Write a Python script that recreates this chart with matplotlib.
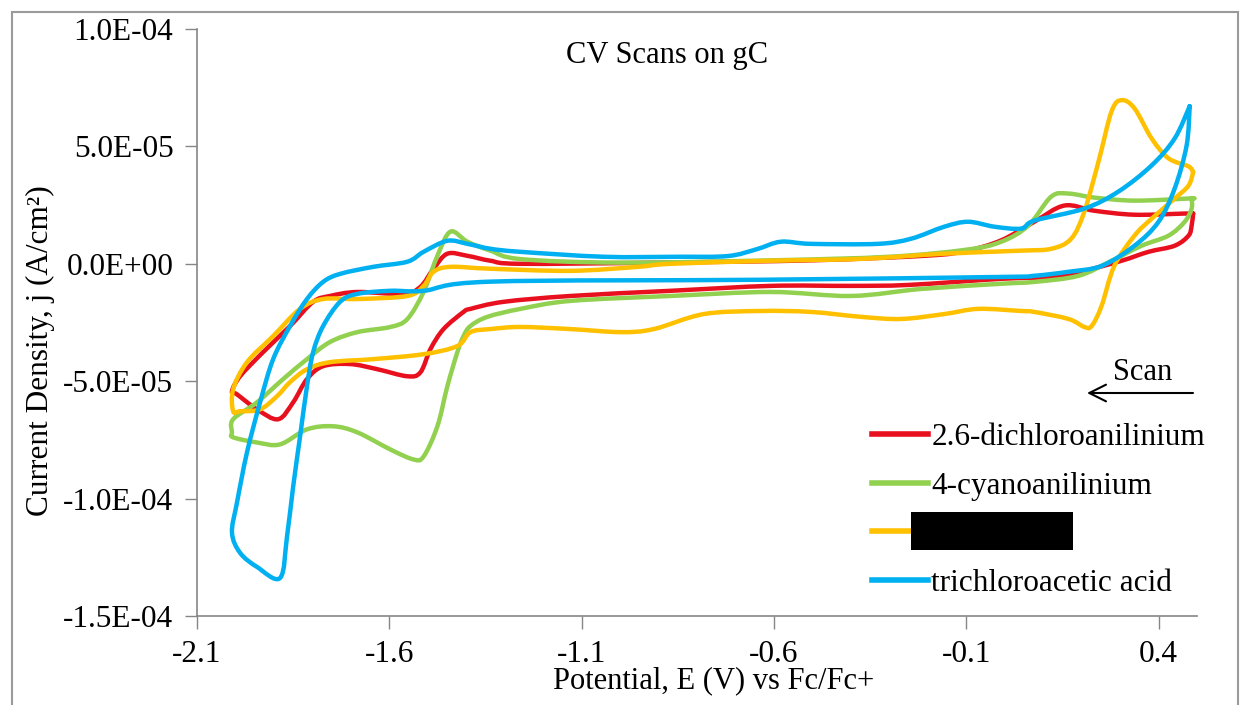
import numpy as np
import matplotlib
matplotlib.use("Agg")
import matplotlib.pyplot as plt
from matplotlib.patches import Rectangle, PathPatch
from matplotlib.path import Path
from matplotlib.lines import Line2D

plt.rcParams['font.family'] = ['Liberation Serif', 'DejaVu Serif']

# potential E (V vs Fc/Fc+) and current density j (units of 1e-5 A/cm2)
# each loop starts at the right vertex, scans negative, then returns
red_E = [0.49, 0.486, 0.478, 0.442, 0.374, 0.304, 0.207, 0.121, -0.009, -0.25,
         -0.40, -0.608, -0.868, -1.129, -1.303, -1.389, -1.407, -1.459, -1.493, -1.519,
         -1.553, -1.631, -1.702, -1.772, -1.814, -1.85, -1.889, -1.944, -1.996, -2.009,
         -1.988, -1.928, -1.858, -1.798, -1.754, -1.683, -1.564, -1.519, -1.485, -1.449,
         -1.397, -1.337, -1.259, -0.9, -0.5, -0.2, -0.1, -0.009, 0.077, 0.155,
         0.233, 0.3375, 0.468, 0.49]
red_j = [2.14, 1.62, 1.20, 0.77, 0.51, 0.13, -0.30, -0.56, -0.64, -0.90,
         -0.94, -0.94, -1.15, -1.37, -1.62, -1.92, -2.05, -2.78, -3.63, -4.62,
         -4.79, -4.49, -4.27, -4.36, -4.91, -5.90, -6.62, -6.20, -5.56, -5.43,
         -4.79, -3.76, -2.65, -1.62, -1.37, -1.20, -1.28, -0.98, -0.21, 0.43,
         0.34, 0.13, 0.0, 0.05, 0.15, 0.35, 0.55, 1.0, 1.79, 2.48,
         2.26, 2.09, 2.14, 2.14]

green_E = [0.486, 0.486, 0.468, 0.426, 0.356, 0.278, 0.192, 0.077, -0.009, -0.217,
           -0.399, -0.608, -0.868, -1.129, -1.259, -1.345, -1.389, -1.407, -1.423, -1.449,
           -1.475, -1.511, -1.5375, -1.597, -1.683, -1.746, -1.814, -1.884, -1.944, -2.006,
           -2.009, -2.006, -1.944, -1.876, -1.814, -1.754, -1.683, -1.597, -1.553, -1.511,
           -1.475, -1.441, -1.397, -1.337, -1.259, -1.0, -0.6, -0.3, -0.1, -0.009,
           0.061, 0.121, 0.166, 0.233, 0.3375, 0.478, 0.486]
green_j = [2.78, 2.35, 1.79, 1.20, 0.77, 0.13, -0.51, -0.77, -0.85, -1.07,
           -1.37, -1.20, -1.37, -1.58, -1.92, -2.26, -2.65, -3.08, -3.76, -5.21,
           -6.92, -8.21, -8.33, -7.91, -7.18, -6.92, -7.05, -7.69, -7.61, -7.39,
           -7.18, -6.62, -5.90, -4.91, -4.06, -3.33, -2.91, -2.69, -2.35, -1.20,
           0.34, 1.37, 0.94, 0.56, 0.20, 0.05, 0.15, 0.3, 0.6, 0.94,
           1.62, 2.86, 2.99, 2.82, 2.69, 2.78, 2.78]

orange_E = [0.49, 0.478, 0.442, 0.382, 0.3375, 0.285, 0.252, 0.226, 0.207, 0.166,
            0.077, 0.043, -0.069, -0.157, -0.269, -0.373, -0.504, -0.634, -0.782, -0.9125,
            -0.998, -1.129, -1.259, -1.337, -1.389, -1.423, -1.511, -1.642, -1.754, -1.814,
            -1.858, -1.892, -1.936, -1.988, -2.006, -2.006, -1.97, -1.902, -1.832, -1.772,
            -1.683, -1.553, -1.511, -1.485, -1.441, -1.337, -1.129, -0.954, -0.868, -0.608,
            -0.373, -0.157, 0.043, 0.121, 0.173, 0.207, 0.244, 0.278, 0.304, 0.3375,
            0.382, 0.426, 0.478, 0.49]
orange_j = [3.9, 3.33, 2.78, 1.92, 1.20, -0.09, -1.79, -2.65, -2.69, -2.35,
            -2.05, -2.01, -1.92, -2.14, -2.35, -2.26, -2.05, -2.01, -2.14, -2.78,
            -2.91, -2.78, -2.69, -2.78, -2.91, -3.50, -3.85, -4.06, -4.19, -4.49,
            -5.04, -5.64, -6.20, -6.28, -6.28, -5.34, -4.19, -3.08, -1.92, -1.50,
            -1.50, -1.37, -0.94, -0.34, -0.13, -0.21, -0.30, -0.13, 0.0, 0.13,
            0.21, 0.43, 0.56, 0.64, 1.07, 2.22, 4.36, 6.50, 6.97, 6.62,
            5.34, 4.49, 4.15, 3.9]

blue_E = [0.481, 0.473, 0.442, 0.400, 0.3375, 0.252, 0.166, 0.077, -0.009, -0.634,
          -1.337, -1.511, -1.597, -1.683, -1.728, -1.772, -1.798, -1.814, -1.832,
          -1.85, -1.866, -1.884, -1.944, -1.988, -2.009, -1.996, -1.97, -1.936, -1.902,
          -1.858, -1.814, -1.772, -1.728, -1.642, -1.553, -1.511, -1.449, -1.397, -1.337,
          -1.259, -1.043, -0.85, -0.72, -0.645, -0.582, -0.504, -0.329, -0.243, -0.157, -0.095,
          -0.027, 0.043, 0.077, 0.207, 0.296, 0.382, 0.442, 0.481]
blue_j = [6.71, 5.04, 3.21, 1.79, 0.77, -0.09, -0.34, -0.51, -0.56, -0.68,
          -0.76, -1.15, -1.15, -1.28, -1.62, -2.65, -3.76, -5.21, -7.35,
          -9.49, -11.62, -13.38, -12.91, -12.31, -11.45, -10.17, -8.03, -5.90, -4.06,
          -2.65, -1.50, -0.77, -0.43, -0.13, 0.09, 0.51, 0.98, 0.85, 0.64,
          0.51, 0.30, 0.30, 0.33, 0.62, 0.94, 0.85, 0.85, 1.07, 1.58, 1.79,
          1.58, 1.50, 1.84, 2.35, 3.08, 4.19, 5.34, 6.71]

series = [
    (red_E, red_j, '#E8101E', '2.6-dichloroanilinium'),
    (green_E, green_j, '#92D050', '4-cyanoanilinium'),
    (orange_E, orange_j, '#FFC000', ' '),
    (blue_E, blue_j, '#00B0F0', 'trichloroacetic acid'),
]

x_ticks = [-2.1, -1.6, -1.1, -0.6, -0.1, 0.4]
y_ticks = [-1.5e-4, -1.0e-4, -5.0e-5, 0.0, 5.0e-5, 1.0e-4]
y_labels = ['-1.5E-04', '-1.0E-04', '-5.0E-05', '0.0E+00', '5.0E-05', '1.0E-04']


def smooth_path(x, y):
    # Excel-style smoothed line: Bezier segments through the points
    p = np.column_stack([x, y])
    pe = np.vstack([p[0], p, p[-1]])
    verts = [p[0]]
    codes = [Path.MOVETO]
    for i in range(len(p) - 1):
        p0, p1, p2, p3 = pe[i], pe[i + 1], pe[i + 2], pe[i + 3]
        verts += [p1 + (p2 - p0) / 6, p2 - (p3 - p1) / 6, p2]
        codes += [Path.CURVE4] * 3
    return Path(verts, codes)


W, H = 1241, 705
fig = plt.figure(figsize=(W / 100, H / 100), dpi=100)
ax = fig.add_axes([197 / W, 1 - 616 / H, 1000 / W, 587 / H])

handles = []
for E, j, c, lab in series:
    path = smooth_path(np.array(E), np.array(j) * 1e-5)
    ax.add_patch(PathPatch(path, facecolor='none', edgecolor=c, lw=3.2,
                           joinstyle='round', capstyle='round'))
    handles.append(Line2D([], [], color=c, lw=4, label=lab))

ax.set_xlim(-2.1, 0.5)
ax.set_ylim(-1.5e-4, 1.0e-4)
ax.set_xticks(x_ticks)
ax.set_xticklabels([str(t) for t in x_ticks])
ax.set_yticks(y_ticks)
ax.set_yticklabels(y_labels)
ax.tick_params(labelsize=22.5, length=9, width=1, color='#868686', direction='out', pad=8)
for s in ['top', 'right']:
    ax.spines[s].set_visible(False)
for s in ['left', 'bottom']:
    ax.spines[s].set_color('#868686')
    ax.spines[s].set_linewidth(1.2)

ax.legend(handles=handles, loc='upper left', bbox_to_anchor=(872 / W, 1 - 423 / H),
          bbox_transform=fig.transFigure, frameon=False, fontsize=22.5,
          handlelength=1.8, handletextpad=0.1, labelspacing=0.63,
          borderpad=0, borderaxespad=0)

# titles
fig.text(667 / W, 1 - 56 / H, 'CV Scans on gC', fontsize=22, ha='center', va='center')
fig.text(714 / W, 1 - 681 / H, 'Potential, E (V) vs Fc/Fc+', fontsize=22, ha='center', va='center')
fig.text(40 / W, 1 - 351 / H, 'Current Density, j (A/cm²)', fontsize=22.5,
         ha='center', va='center', rotation=90)

# scan direction
fig.text(1143 / W, 1 - 372 / H, 'Scan', fontsize=22, ha='center', va='center')
ax.annotate('', xy=(1087 / W, 1 - 393 / H), xytext=(1193 / W, 1 - 393 / H),
            xycoords='figure fraction', textcoords='figure fraction',
            arrowprops=dict(arrowstyle='->', color='black', lw=1.5,
                            mutation_scale=30, shrinkA=0, shrinkB=0))

# redaction box over third legend entry
fig.patches.append(Rectangle((911 / W, 1 - 550 / H), 162 / W, 38 / H,
                             transform=fig.transFigure, facecolor='black',
                             edgecolor='none', zorder=10))
# chart border
fig.patches.append(Rectangle((12 / W, -0.01), 1226 / W, 1 - 12 / H + 0.01,
                             transform=fig.transFigure, facecolor='none',
                             edgecolor='#9A9A9A', lw=1.5, zorder=0))

fig.savefig('out.png', dpi=100)
